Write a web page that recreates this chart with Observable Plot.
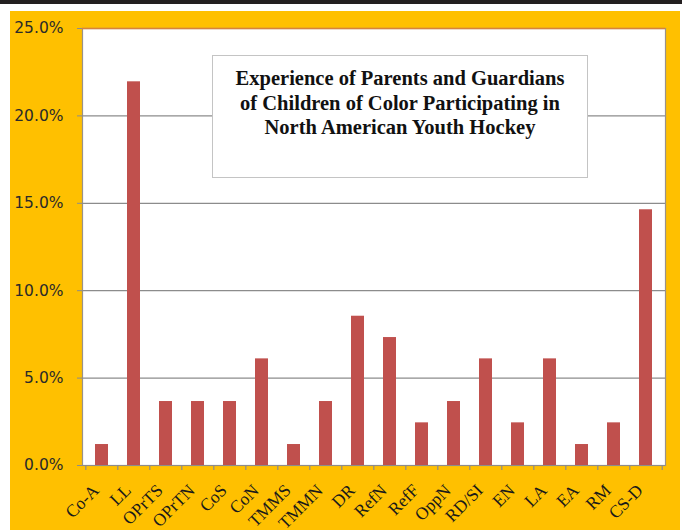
<!DOCTYPE html>
<html>
<head>
<meta charset="utf-8">
<script src="https://cdn.jsdelivr.net/npm/d3@7"></script>
<script src="https://cdn.jsdelivr.net/npm/@observablehq/plot@0.6"></script>
<style>
  html, body { margin: 0; padding: 0; background: white; width: 682px; height: 530px; overflow: hidden; }
  #topbar { position: absolute; left: 0; top: 0; width: 682px; height: 4px; background: #231f20; }
  #bg { position: absolute; left: 10px; top: 11px; width: 670px; height: 519px; background: #FFC000; }
  #chart { position: absolute; left: 0; top: 0; }
  #titlebox { position: absolute; left: 212px; top: 55px; width: 374px; height: 111px;
    border: 1.5px solid #c4c4c4; background: white; box-sizing: content-box;
    font-family: "Liberation Serif", "Times New Roman", serif; font-weight: bold;
    font-size: 20.5px; line-height: 24.5px; text-align: center; color: #111; padding-top: 10px; }
</style>
</head>
<body>
<div id="topbar"></div>
<div id="bg"></div>
<div id="chart"></div>
<div id="titlebox">Experience of Parents and Guardians<br>of Children of Color Participating in<br>North American Youth Hockey</div>
<script>
const categories = ["Co-A","LL","OPrTS","OPrTN","CoS","CoN","TMMS","TMMN","DR","RefN","RefF","OppN","RD/SI","EN","LA","EA","RM","CS-D"];
const percents = [1.2, 21.95, 3.66, 3.66, 3.66, 6.1, 1.2, 3.66, 8.54, 7.32, 2.44, 3.66, 6.1, 2.44, 6.1, 1.2, 2.44, 14.63];
const yTicks = [0, 5, 10, 15, 20, 25];

const data = categories.map((c, i) => ({cat: c, value: percents[i]}));

const W = 682, H = 530;
const mL = 82, mR = 17, mT = 28, mB = 65;
const step = (W - mL - mR) / categories.length;

const chart = Plot.plot({
  width: W, height: H,
  marginLeft: mL, marginRight: mR, marginTop: mT, marginBottom: mB,
  style: {background: "transparent", overflow: "visible"},
  x: {domain: categories, paddingInner: 0.6, paddingOuter: 0.3, align: 0.5},
  y: {domain: [0, 25]},
  marks: [
    Plot.frame({fill: "white", stroke: "#9a9288", strokeWidth: 1.2}),
    Plot.gridY(yTicks.filter(t => t > 0 && t < 25), {stroke: "#8c8c8c", strokeOpacity: 1, strokeWidth: 1.2}),
    Plot.ruleY([25], {stroke: "#d8833a", strokeWidth: 1.5}),
    Plot.barY(data, {x: "cat", y: "value", fill: "#C0504D"}),
    Plot.ruleY([0], {stroke: "#8c8c8c", strokeWidth: 1.2}),
    Plot.ruleX(categories, {x: d => d, y1: 0, y2: 0, insetBottom: -5, dx: -step / 2, stroke: "#8c8c8c", strokeWidth: 1.2}),
    Plot.ruleX(categories.slice(-1), {x: d => d, y1: 0, y2: 0, insetBottom: -5, dx: step / 2, stroke: "#8c8c8c", strokeWidth: 1.2}),
    Plot.axisY({ticks: yTicks, tickFormat: d => d.toFixed(1) + "%", tickSize: 5, tickPadding: 14,
      fontSize: 15.5, fontFamily: "DejaVu Sans", fill: "#2a2a2a", stroke: "#8c8c8c", label: null}),
    Plot.axisX({tickSize: 0, tickRotate: -45, tickPadding: 22, dx: -6,
      fontSize: 17.5, fontFamily: "Liberation Serif", fill: "#1a1a1a", label: null})
  ]
});
document.getElementById("chart").appendChild(chart);
</script>
</body>
</html>
